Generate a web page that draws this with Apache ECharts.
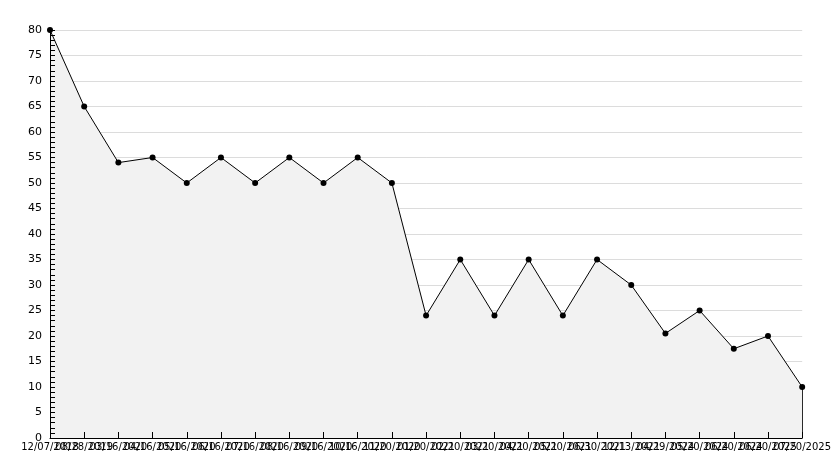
<!DOCTYPE html>
<html>
<head>
<meta charset="utf-8">
<script src="https://cdn.jsdelivr.net/npm/echarts@6/dist/echarts.min.js"></script>
<style>html,body{margin:0;padding:0;background:#fff}#c{width:834px;height:468px}</style>
</head>
<body>
<div id="c"></div>
<script>
var dates = ["12/07/2018","08/28/2019","03/16/2020","04/16/2020","05/16/2020","06/16/2020","07/16/2020","08/16/2020","09/16/2020","10/16/2020","11/20/2020","01/20/2021","02/20/2021","03/20/2021","04/20/2021","05/20/2021","06/30/2021","12/13/2021","04/29/2024","05/20/2024","06/20/2024","06/20/2025","07/20/2025"];
var values = [80,65,54,55,50,55,50,55,50,55,50,24,35,24,35,24,35,30,20.5,25,17.5,20,10];
var yTicks = {min:0, max:80, interval:5};

var chart = echarts.init(document.getElementById('c'), null, {renderer:'canvas'});
var font = {fontFamily:'DejaVu Sans', fontSize:10, color:'#000'};
chart.setOption({
  animation:false,
  backgroundColor:'#fff',
  grid:{left:50, right:29, top:30, bottom:30},
  xAxis:[{
    type:'category', data:dates, boundaryGap:false, zlevel:2, z:10, position:'bottom',
    axisLine:{lineStyle:{color:'#000', width:1}},
    axisTick:{show:true, inside:true, length:6, interval:0, lineStyle:{color:'#000', width:1}},
    axisLabel:Object.assign({interval:0, margin:4, hideOverlap:false}, font),
    splitLine:{show:false}
  }],
  yAxis:[{
    type:'value', min:yTicks.min, max:yTicks.max, interval:yTicks.interval, zlevel:0, z:0,
    axisLine:{show:false}, axisTick:{show:false}, axisLabel:{show:false},
    splitLine:{show:true, lineStyle:{color:'#dcdcdc', width:1}}
  },{
    type:'value', min:yTicks.min, max:yTicks.max, interval:yTicks.interval, zlevel:2, z:10, position:'left', offset:0,
    axisLine:{show:true, lineStyle:{color:'#000', width:1}},
    axisTick:{show:true, inside:true, length:5, lineStyle:{color:'#000'}},
    minorTick:{show:true, splitNumber:5, length:5, lineStyle:{color:'#000'}},
    axisLabel:Object.assign({margin:8}, font, {fontSize:11}),
    splitLine:{show:false}
  }],
  series:[{
    type:'line', data:values, zlevel:1, z:3, yAxisIndex:0,
    symbol:'circle', symbolSize:6, showAllSymbol:true,
    itemStyle:{color:'#000'},
    lineStyle:{color:'#000', width:1},
    areaStyle:{color:'#f2f2f2', opacity:1},
    markLine:{
      silent:true, symbol:['none','none'], label:{show:false},
      lineStyle:{color:'#000', width:1, type:'solid'},
      data:[[{coord:[dates[dates.length-1], 0]},{coord:[dates[dates.length-1], values[values.length-1]]}]]
    }
  }]
});
</script>
</body>
</html>
